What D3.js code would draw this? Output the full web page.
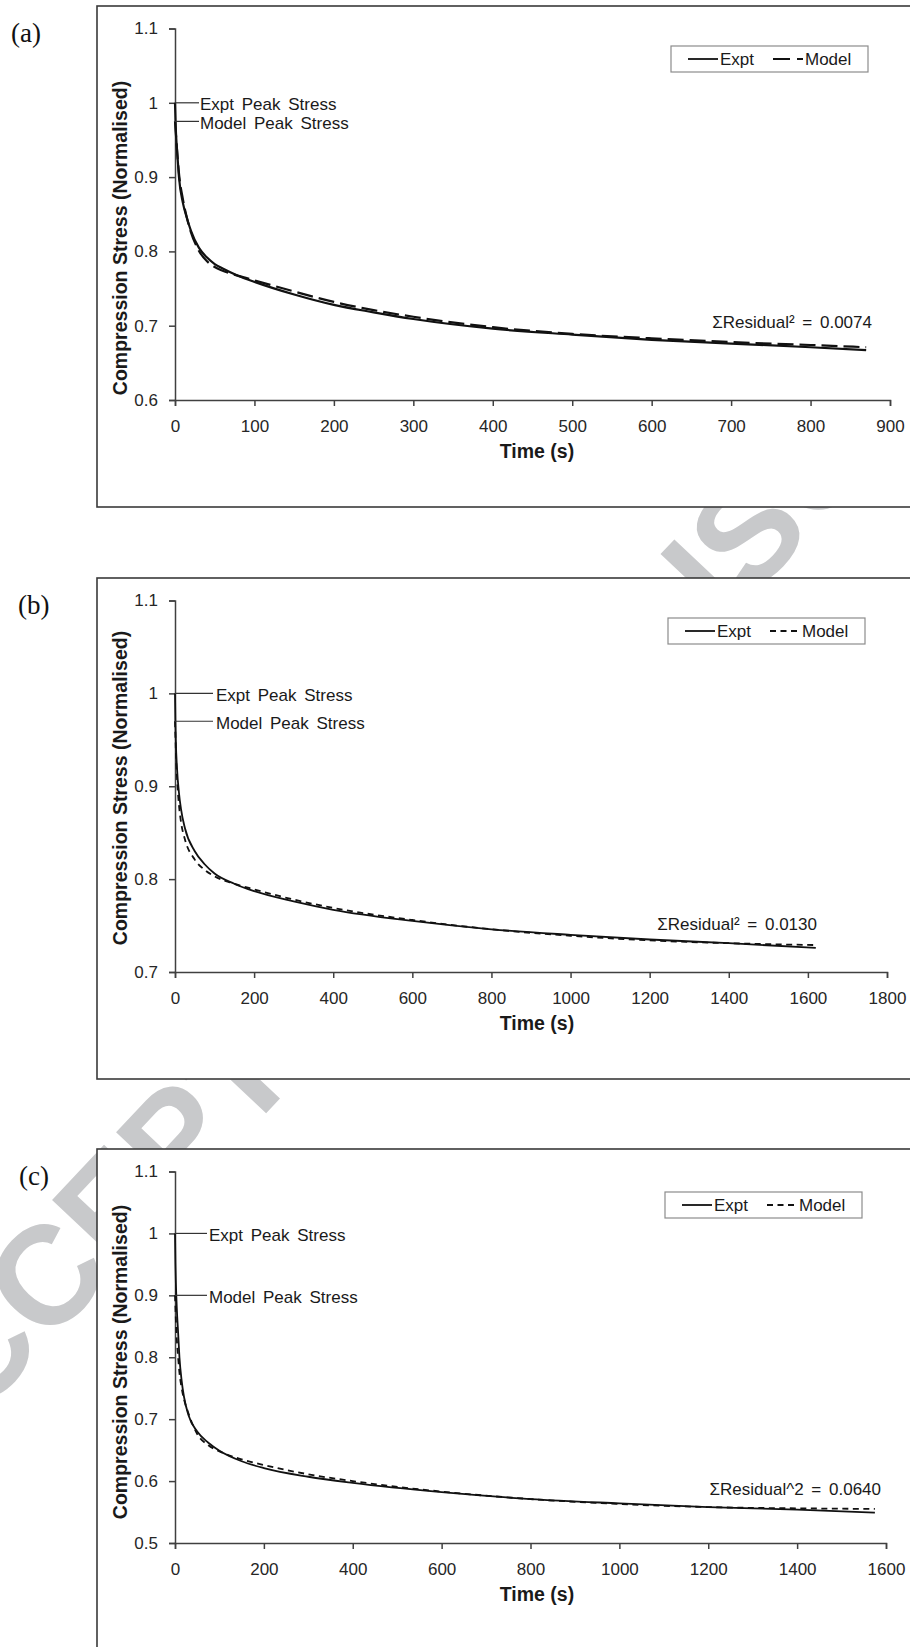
<!DOCTYPE html>
<html>
<head>
<meta charset="utf-8">
<script src="https://cdn.jsdelivr.net/npm/d3@7"></script>
<style>
	body { margin: 0; background: #fff; }
</style>
</head>
<body>
<div id="fig"></div>
<script>
// (a) data
var timeA = [0, 1, 2, 3, 5, 10, 15, 20, 30, 40, 50, 60, 80, 100, 150, 200, 250, 300, 400, 500, 600, 700, 800, 870];
var exptA = [1.0, 0.965, 0.945, 0.93, 0.9, 0.865, 0.845, 0.828, 0.805, 0.792, 0.783, 0.777, 0.767, 0.759, 0.742, 0.728, 0.718, 0.709, 0.696, 0.688, 0.681, 0.676, 0.671, 0.667];
var modelA = [0.975, 0.96, 0.945, 0.93, 0.905, 0.87, 0.845, 0.826, 0.801, 0.787, 0.779, 0.774, 0.767, 0.761, 0.746, 0.732, 0.721, 0.712, 0.698, 0.689, 0.683, 0.678, 0.674, 0.671];

// (b)
var timeB = [0, 1, 2, 5, 10, 15, 25, 50, 75, 100, 150, 200, 300, 400, 600, 800, 1000, 1200, 1400, 1620];
var exptB = [1.0, 0.97, 0.95, 0.92, 0.893, 0.876, 0.855, 0.83, 0.816, 0.806, 0.795, 0.787, 0.776, 0.767, 0.755, 0.746, 0.74, 0.735, 0.731, 0.726];
var modelB = [0.97, 0.955, 0.94, 0.91, 0.88, 0.862, 0.843, 0.821, 0.81, 0.803, 0.795, 0.789, 0.778, 0.769, 0.756, 0.746, 0.739, 0.734, 0.731, 0.729];

// (c)
var timeC = [0, 1, 2, 4, 7, 10, 15, 20, 30, 50, 75, 100, 150, 200, 300, 400, 600, 800, 1000, 1200, 1400, 1575];
var exptC = [1.0, 0.95, 0.92, 0.88, 0.84, 0.8, 0.762, 0.737, 0.707, 0.68, 0.662, 0.649, 0.632, 0.621, 0.607, 0.597, 0.582, 0.571, 0.564, 0.558, 0.554, 0.549];
var modelC = [0.9, 0.88, 0.86, 0.83, 0.8, 0.775, 0.75, 0.733, 0.71, 0.676, 0.658, 0.648, 0.635, 0.626, 0.611, 0.6, 0.583, 0.571, 0.563, 0.558, 0.556, 0.555];

var xTicksA = [0, 100, 200, 300, 400, 500, 600, 700, 800, 900];
var xTicksB = [0, 200, 400, 600, 800, 1000, 1200, 1400, 1600, 1800];
var xTicksC = [0, 200, 400, 600, 800, 1000, 1200, 1400, 1600];
var yTicksA = [0.6, 0.7, 0.8, 0.9, 1, 1.1];
var yTicksB = [0.7, 0.8, 0.9, 1, 1.1];
var yTicksC = [0.5, 0.6, 0.7, 0.8, 0.9, 1, 1.1];

var exptPeak = [1, 1, 1];
var modelPeak = [0.975, 0.97, 0.9];
var residualLabels = ['\u03A3Residual\u00B2 = 0.0074', '\u03A3Residual\u00B2 = 0.0130', '\u03A3Residual^2 = 0.0640'];
var panelLabels = ['(a)', '(b)', '(c)'];
var seriesNames = ['Expt', 'Model'];

var sans = '"Liberation Sans", Arial, sans-serif';

// layout for each panel
var panels = [
	{ top: 6, labelX: 11, time: timeA, expt: exptA, model: modelA, xTicks: xTicksA, yTicks: yTicksA,
	  xRight: 890, dash: '16,6', lw: 2.2, legendX: 671, legendY: 40, peakEnd: 199, peakText: 200,
	  residX: 872, residY: 322, titleY: 238 },
	{ top: 578, labelX: 18, time: timeB, expt: exptB, model: modelB, xTicks: xTicksB, yTicks: yTicksB,
	  xRight: 887, dash: '6,4.5', lw: 1.8, legendX: 668, legendY: 40, peakEnd: 213, peakText: 216,
	  residX: 817, residY: 352, titleY: 788 },
	{ top: 1149, labelX: 19, time: timeC, expt: exptC, model: modelC, xTicks: xTicksC, yTicks: yTicksC,
	  xRight: 886, dash: '6,4.5', lw: 1.8, legendX: 665, legendY: 43, peakEnd: 207, peakText: 209,
	  residX: 881, residY: 346, titleY: 1362 }
];

var svg = d3.select('#fig').append('svg')
	.attr('width', 910)
	.attr('height', 1647)
	.attr('font-family', sans);

svg.append('rect')
	.attr('width', 910)
	.attr('height', 1647)
	.attr('fill', '#fff');

// grey watermark behind the figure boxes
svg.append('text')
	.attr('transform', 'translate(-128,1460) rotate(-46.7)')
	.attr('dy', '0.35em')
	.attr('font-size', 140)
	.attr('font-weight', 'bold')
	.attr('fill', '#c8c9cb')
	.text('ACCEPTED MANUSCRIPT');

var styleAxis = function(a) {
	a.select('.domain').attr('stroke', '#404040').attr('stroke-width', 1.5);
	a.selectAll('.tick line').attr('stroke', '#404040').attr('stroke-width', 1.5);
	a.attr('font-family', sans);
	a.selectAll('.tick text')
		.attr('font-size', 17)
		.attr('fill', '#262626');
};

var drawPanel = function(p, k) {
	var T = p.top;
	var g = svg.append('g');

	g.append('rect')
		.attr('x', 97)
		.attr('y', T)
		.attr('width', 900)
		.attr('height', 501)
		.attr('fill', '#fff')
		.attr('stroke', '#3a3a3a')
		.attr('stroke-width', 1.6);

	svg.append('text')
		.attr('x', p.labelX)
		.attr('y', T + 27)
		.attr('dy', '0.35em')
		.attr('font-family', '"Liberation Serif", "Times New Roman", serif')
		.attr('font-size', 27)
		.attr('fill', '#111')
		.text(panelLabels[k]);

	var yMin = d3.min(p.yTicks);
	var xMax = d3.max(p.xTicks);
	var x = d3.scaleLinear().domain([0, xMax]).range([175, p.xRight]);
	var y = d3.scaleLinear().domain([yMin, 1.1]).range([T + 394, T + 22.5]);

	var xa = g.append('g')
		.attr('transform', 'translate(0,' + y(yMin) + ')')
		.call(d3.axisBottom(x).tickValues(p.xTicks).tickSize(6).tickPadding(14).tickFormat(d3.format('d')));
	styleAxis(xa);

	var ya = g.append('g')
		.attr('transform', 'translate(' + x(0) + ',0)')
		.call(d3.axisLeft(y).tickValues(p.yTicks).tickSize(6).tickPadding(11)
			.tickFormat(function(d) { return String(+d.toFixed(1)); }));
	styleAxis(ya);

	// axis titles
	g.append('text')
		.attr('transform', 'translate(127,' + p.titleY + ') rotate(-90)')
		.attr('text-anchor', 'middle')
		.attr('font-size', 19.5)
		.attr('font-weight', 'bold')
		.attr('fill', '#1a1a1a')
		.text('Compression Stress (Normalised)');

	g.append('text')
		.attr('x', 537)
		.attr('y', T + 452)
		.attr('text-anchor', 'middle')
		.attr('font-size', 19.5)
		.attr('font-weight', 'bold')
		.attr('fill', '#1a1a1a')
		.text('Time (s)');

	var lineFunction = d3.line()
		.x(function(d) { return x(d.t); })
		.y(function(d) { return y(d.v); })
		.curve(d3.curveMonotoneX);

	var exptRows = p.time.map(function(t, i) { return { t: t, v: p.expt[i] }; });
	var modelRows = p.time.map(function(t, i) { return { t: t, v: p.model[i] }; });

	g.append('path')
		.attr('d', lineFunction(modelRows))
		.attr('fill', 'none')
		.attr('stroke', '#111')
		.attr('stroke-width', p.lw)
		.attr('stroke-dasharray', p.dash);

	g.append('path')
		.attr('d', lineFunction(exptRows))
		.attr('fill', 'none')
		.attr('stroke', '#111')
		.attr('stroke-width', p.lw);

	// peak stress markers
	var peaks = [
		{ v: exptPeak[k], label: 'Expt Peak Stress' },
		{ v: modelPeak[k], label: 'Model Peak Stress' }
	];
	peaks.forEach(function(pk) {
		g.append('line')
			.attr('x1', x(0))
			.attr('x2', p.peakEnd)
			.attr('y1', y(pk.v))
			.attr('y2', y(pk.v))
			.attr('stroke', '#333')
			.attr('stroke-width', 1.2);
		g.append('text')
			.attr('x', p.peakText)
			.attr('y', y(pk.v) + 1.5)
			.attr('dy', '0.35em')
			.attr('font-size', 17)
			.attr('word-spacing', 3)
			.attr('fill', '#1a1a1a')
			.text(pk.label);
	});

	g.append('text')
		.attr('x', p.residX)
		.attr('y', T + p.residY)
		.attr('text-anchor', 'end')
		.attr('font-size', 17)
		.attr('word-spacing', 3)
		.attr('fill', '#1a1a1a')
		.text(residualLabels[k]);

	// legend
	var lx = p.legendX, ly = T + p.legendY;
	g.append('rect')
		.attr('x', lx)
		.attr('y', ly)
		.attr('width', 197)
		.attr('height', 26)
		.attr('fill', '#fff')
		.attr('stroke', '#8c8c8c')
		.attr('stroke-width', 1.2);
	g.append('line')
		.attr('x1', lx + 17).attr('x2', lx + 47)
		.attr('y1', ly + 13).attr('y2', ly + 13)
		.attr('stroke', '#111').attr('stroke-width', 1.8);
	g.append('line')
		.attr('x1', lx + 102).attr('x2', lx + 132)
		.attr('y1', ly + 13).attr('y2', ly + 13)
		.attr('stroke', '#111').attr('stroke-width', 1.8)
		.attr('stroke-dasharray', k == 0 ? '17,7' : p.dash);
	g.append('text')
		.attr('x', lx + 49).attr('y', ly + 13).attr('dy', '0.35em')
		.attr('font-size', 17).attr('fill', '#1a1a1a')
		.text(seriesNames[0]);
	g.append('text')
		.attr('x', lx + 134).attr('y', ly + 13).attr('dy', '0.35em')
		.attr('font-size', 17).attr('fill', '#1a1a1a')
		.text(seriesNames[1]);
};

panels.forEach(function(p, k) {
	drawPanel(p, k);
});
</script>
</body>
</html>
